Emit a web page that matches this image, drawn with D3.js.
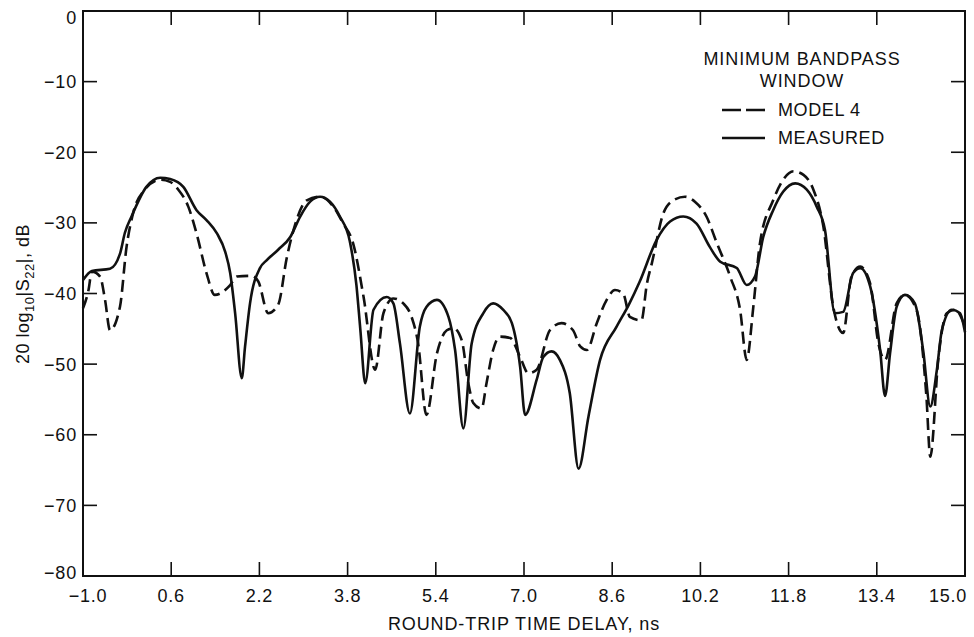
<!DOCTYPE html>
<html>
<head>
<meta charset="utf-8">
<script src="https://cdn.jsdelivr.net/npm/d3@7/dist/d3.min.js"></script>
<style>
  html, body { margin: 0; padding: 0; background: #fff; }
  svg { display: block; }
  text { font-family: "Liberation Sans", Arial, Helvetica, sans-serif; fill: #111; }
</style>
</head>
<body>
<svg id="chart" width="974" height="637"></svg>
<script>
// Round-trip time delay (ns) and reflection magnitude (dB) for each trace
const measuredT  = [-1.00,-0.84,-0.51,-0.33,-0.24,-0.12,0.15,0.40,0.58,0.82,1.06,1.24,1.43,1.58,1.67,1.76,1.88,1.94,2.03,2.21,2.33,2.54,2.76,2.94,3.12,3.30,3.48,3.66,3.84,3.96,4.03,4.12,4.27,4.51,4.63,4.75,4.93,5.11,5.23,5.42,5.63,5.75,5.90,6.05,6.26,6.44,6.62,6.78,6.93,7.02,7.23,7.35,7.50,7.65,7.83,7.99,8.17,8.38,8.68,8.90,9.10,9.40,9.65,9.89,10.13,10.37,10.56,10.86,11.04,11.19,11.34,11.52,11.70,11.92,12.13,12.31,12.46,12.64,12.79,12.97,13.10,13.28,13.46,13.55,13.64,13.76,13.91,14.09,14.24,14.37,14.49,14.58,14.76,14.91,15.00];
const measuredDb = [-38.1,-36.8,-36.5,-34.4,-31.4,-29.1,-24.9,-23.6,-23.8,-24.9,-28.2,-29.6,-31.5,-34.1,-37.1,-42.8,-52.0,-47.5,-41.4,-36.4,-35.3,-33.8,-32.0,-29.1,-27.0,-26.3,-27.0,-29.1,-32.6,-38.8,-45.0,-52.7,-42.3,-40.5,-41.4,-47.1,-57.0,-44.7,-41.9,-40.9,-43.3,-48.0,-59.1,-47.1,-42.8,-41.4,-42.3,-44.2,-50.4,-57.2,-52.2,-49.0,-48.2,-49.4,-54.1,-64.8,-57.4,-49.4,-44.7,-41.6,-38.3,-32.5,-29.8,-29.1,-30.1,-33.4,-35.5,-36.4,-38.8,-37.6,-32.0,-28.2,-25.6,-24.4,-25.3,-27.7,-31.0,-42.8,-42.6,-37.1,-36.4,-39.0,-48.0,-54.5,-48.5,-41.9,-40.2,-41.4,-48.0,-56.0,-50.8,-45.2,-42.3,-42.8,-45.5];

const modelT  = [-1.00,-0.90,-0.84,-0.69,-0.60,-0.51,-0.33,-0.21,-0.09,0.12,0.40,0.58,0.73,0.91,1.06,1.24,1.39,1.67,1.79,2.06,2.18,2.36,2.54,2.70,2.82,3.06,3.30,3.54,3.72,3.90,4.09,4.30,4.45,4.63,4.81,4.96,5.08,5.23,5.42,5.60,5.72,5.87,5.99,6.08,6.23,6.32,6.44,6.56,6.75,6.93,7.08,7.23,7.47,7.68,7.89,8.02,8.14,8.32,8.50,8.65,8.80,8.92,9.13,9.23,9.32,9.53,9.71,9.92,10.10,10.31,10.50,10.74,10.92,11.04,11.16,11.28,11.52,11.70,11.89,12.07,12.25,12.43,12.61,12.79,12.94,13.10,13.28,13.43,13.55,13.76,13.91,14.12,14.30,14.37,14.52,14.67,14.82,15.00];
const modelDb = [-42.1,-39.5,-36.9,-37.6,-40.9,-45.2,-41.9,-33.4,-28.6,-25.3,-23.9,-24.2,-25.3,-27.7,-31.5,-37.1,-40.2,-38.8,-37.6,-37.5,-38.3,-42.8,-41.6,-34.8,-31.0,-26.8,-26.3,-27.7,-30.1,-32.9,-40.5,-50.8,-42.8,-40.7,-41.4,-43.3,-47.1,-57.2,-48.5,-45.2,-44.9,-46.6,-52.7,-55.5,-56.3,-52.7,-48.0,-46.1,-46.3,-49.0,-51.3,-50.8,-45.2,-44.2,-45.2,-47.5,-48.0,-44.2,-40.9,-39.5,-40.0,-43.3,-43.8,-38.6,-35.7,-28.6,-26.8,-26.3,-27.0,-29.1,-32.9,-37.6,-42.3,-49.4,-41.9,-32.9,-26.8,-23.9,-22.7,-23.2,-25.3,-30.5,-41.9,-45.6,-37.6,-36.2,-38.6,-47.1,-49.4,-41.4,-40.2,-42.3,-54.6,-63.1,-48.9,-42.8,-42.3,-44.7];

const xTicks = [-1.0, 0.6, 2.2, 3.8, 5.4, 7.0, 8.6, 10.2, 11.8, 13.4, 15.0];
const yTicks = [0, -10, -20, -30, -40, -50, -60, -70, -80];

const legendTitle = ["MINIMUM BANDPASS", "WINDOW"];
const seriesNames = ["MODEL 4", "MEASURED"];

const fmtNum = (v, digits) => {
  const s = Math.abs(v).toFixed(digits);
  return (v < 0 ? "\u2212" : "") + s;
};

const svg = d3.select("#chart");
const plot = { left: 83, right: 965, top: 11, bottom: 576 };

const x = d3.scaleLinear().domain([-1, 15]).range([plot.left, plot.right]);
const y = d3.scaleLinear().domain([-80, 0]).range([plot.bottom, plot.top]);

const tickLen = 14;
const fs = 18;
const ls = 0.8;

// Frame with inward ticks on all four sides
const axisG = svg.append("g").attr("stroke", "#111").attr("fill", "none");
axisG.append("rect")
  .attr("x", plot.left).attr("y", plot.top)
  .attr("width", plot.right - plot.left).attr("height", plot.bottom - plot.top)
  .attr("stroke-width", 2);

yTicks.forEach(v => {
  axisG.append("line").attr("x1", plot.left).attr("x2", plot.left + tickLen)
    .attr("y1", y(v)).attr("y2", y(v)).attr("stroke-width", 1.6);
  axisG.append("line").attr("x1", plot.right).attr("x2", plot.right - tickLen)
    .attr("y1", y(v)).attr("y2", y(v)).attr("stroke-width", 1.6);
});
xTicks.forEach(v => {
  axisG.append("line").attr("x1", x(v)).attr("x2", x(v))
    .attr("y1", plot.bottom).attr("y2", plot.bottom - tickLen).attr("stroke-width", 1.6);
  axisG.append("line").attr("x1", x(v)).attr("x2", x(v))
    .attr("y1", plot.top).attr("y2", plot.top + tickLen).attr("stroke-width", 1.6);
});

// Tick labels (end labels nudged inside the frame corners)
svg.append("g").selectAll("text").data(yTicks).join("text")
  .attr("x", plot.left - 6)
  .attr("y", d => y(d) + (d === 0 ? 7 : d === -80 ? -3 : 0))
  .attr("dy", "0.36em")
  .attr("text-anchor", "end")
  .attr("font-size", fs)
  .attr("letter-spacing", ls)
  .text(d => fmtNum(d, 0));

svg.append("g").selectAll("text").data(xTicks).join("text")
  .attr("x", (d, i) => x(d) + (i === 0 ? 5 : i === xTicks.length - 1 ? -17 : 0))
  .attr("y", 602)
  .attr("text-anchor", "middle")
  .attr("font-size", fs)
  .attr("letter-spacing", ls)
  .text(d => fmtNum(d, 1));

// Axis titles
svg.append("text")
  .attr("x", (plot.left + plot.right) / 2).attr("y", 630)
  .attr("text-anchor", "middle")
  .attr("font-size", fs)
  .attr("letter-spacing", 0.9)
  .text("ROUND-TRIP TIME DELAY, ns");

const yTitle = svg.append("text")
  .attr("transform", "translate(29,294) rotate(-90)")
  .attr("text-anchor", "middle")
  .attr("font-size", fs)
  .attr("letter-spacing", 0.5);
yTitle.append("tspan").text("20 log");
yTitle.append("tspan").attr("font-size", 13).attr("dy", 5).text("10");
yTitle.append("tspan").attr("dy", -5).text("|S");
yTitle.append("tspan").attr("font-size", 13).attr("dy", 5).text("22");
yTitle.append("tspan").attr("dy", -5).text("|, dB");

// Traces
const line = d3.line()
  .x(d => x(d[0]))
  .y(d => y(d[1]))
  .curve(d3.curveMonotoneX);

const model = modelT.map((t, i) => [t, modelDb[i]]);
const measured = measuredT.map((t, i) => [t, measuredDb[i]]);

svg.append("path").datum(model)
  .attr("d", line)
  .attr("fill", "none").attr("stroke", "#111")
  .attr("stroke-width", 2.6)
  .attr("stroke-dasharray", "12,6")
  .attr("stroke-linejoin", "round");

svg.append("path").datum(measured)
  .attr("d", line)
  .attr("fill", "none").attr("stroke", "#111")
  .attr("stroke-width", 2.6)
  .attr("stroke-linejoin", "round");

// Legend
const lg = svg.append("g");
lg.selectAll("text.title").data(legendTitle).join("text")
  .attr("class", "title")
  .attr("x", 802).attr("y", (d, i) => 65 + i * 22)
  .attr("text-anchor", "middle")
  .attr("font-size", fs)
  .attr("letter-spacing", 0.9)
  .text(d => d);

const dashes = ["19,5", null];
seriesNames.forEach((name, i) => {
  const yy = 110 + i * 28;
  const l = lg.append("line")
    .attr("x1", 722).attr("x2", 765).attr("y1", yy).attr("y2", yy)
    .attr("stroke", "#111").attr("stroke-width", 2.6);
  if (dashes[i]) l.attr("stroke-dasharray", dashes[i]);
  lg.append("text")
    .attr("x", 778).attr("y", yy).attr("dy", "0.36em")
    .attr("font-size", fs)
    .attr("letter-spacing", 0.6)
    .text(name);
});
</script>
</body>
</html>
